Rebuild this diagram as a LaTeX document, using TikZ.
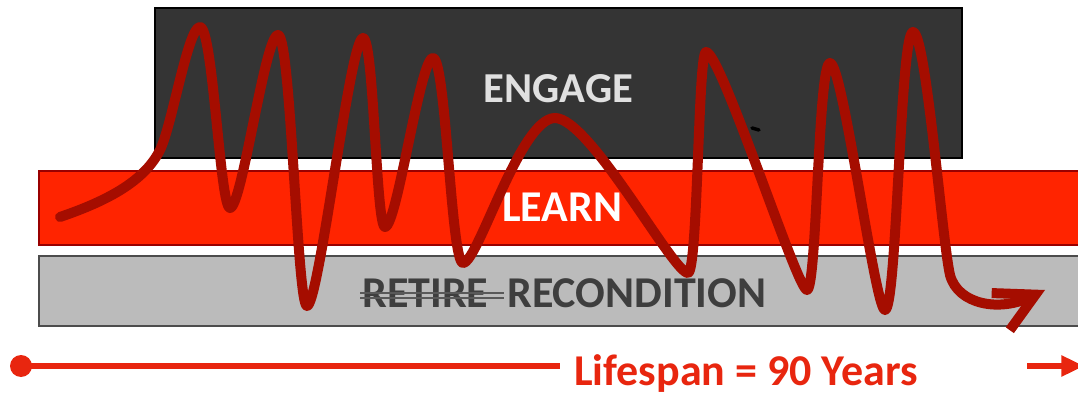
\documentclass[tikz,border=0pt]{standalone}
\usepackage{fontspec}
\setmainfont{Carlito}
\usetikzlibrary{positioning,calc,arrows.meta}

\definecolor{darkband}{HTML}{343434}
\definecolor{redband}{HTML}{FF2400}
\definecolor{greyband}{HTML}{BBBBBB}
\definecolor{wavered}{HTML}{A50D00}
\definecolor{lifered}{HTML}{E8260F}
\definecolor{labelgrey}{HTML}{3E3E3E}

\begin{document}
\begin{tikzpicture}[x=0.75pt, y=-0.75pt,
    band/.style={line width=0.8pt},
    bandlabel/.style={font=\fontsize{33}{33}\bfseries, inner sep=0pt},
    wave/.style={wavered, line width=7.5pt, line cap=round, line join=round},
    strike/.style={gray!70!black, line width=1pt},
    lifeline/.style={lifered, line width=4.5pt}
]
\useasboundingbox (0,0) rectangle (1078,395);

% Bands - drawn first, wave goes on top
% Engage: dark band at the top
\draw[band, draw=black, fill=darkband] (155,8) rectangle (962,158);
% Learn: red band across
\draw[band, draw=red!60!black, fill=redband] (39,171) rectangle (1090,245);
% Recondition: grey band across
\draw[band, draw=black!70, fill=greyband] (39,256) rectangle (1090,326);

% Band labels
\node[bandlabel, font=\fontsize{32}{32}\bfseries, text=black!12, anchor=base] (engage) at (558.5,103) {ENGAGE};
\node[bandlabel, text=white, anchor=base] (learn) at (562,222) {LEARN};
\node[bandlabel, text=labelgrey, anchor=base west] (retire) at (362,307) {RETIRE};
\node[bandlabel, text=labelgrey, anchor=base west] (recon) at (507,307) {RECONDITION};
% RETIRE is struck out twice
\draw[strike] ($(retire.base west)+(-2,-14)$) -- ($(retire.base east)+(15,-14)$);
\draw[strike] ($(retire.base west)+(-2,-9)$) -- ($(retire.base east)+(15,-9)$);

% stray mark in the engage band
\draw[black, line width=2.6pt, line cap=round] (752,128) -- (759,130);

% The wave of a life - up and down between the bands
\draw[wave, -{Straight Barb[length=29pt, width=31pt]}] (60,217)
  .. controls (110,200) and (145,180) .. (160,150)
  .. controls (172,126) and (188,27) .. (200,27)
  .. controls +(13,0) and +(-10,0) .. (230,208)
  .. controls +(12,0) and +(-13,0) .. (278,35)
  .. controls +(13,0) and +(-10,0) .. (307,306)
  .. controls +(12,0) and +(-13,0) .. (363,38)
  .. controls +(11,0) and +(-9,0) .. (385,227)
  .. controls +(12,0) and +(-13,0) .. (433,58)
  .. controls +(13,0) and +(-12,0) .. (463,263)
  .. controls +(15,0) and +(-35,0) .. (555,118)
  .. controls +(35,0) and +(-15,0) .. (688,273)
  .. controls +(10,0) and +(-8,0) .. (706,52)
  .. controls +(15,0) and +(-10,0) .. (807,290)
  .. controls +(10,0) and +(-12,0) .. (830,63)
  .. controls +(13,0) and +(-10,0) .. (885,310)
  .. controls +(12,0) and +(-13,0) .. (913,32)
  .. controls +(13,0) and (942,240) .. (950,275)
  .. controls (958,305) and (1000,312) .. (1045,290);

% Lifespan timeline
\node[circle, fill=lifered, inner sep=0pt, minimum size=16.5pt] (birth) at (21,366) {};
\coordinate (lineend) at (560,366);
\node[font=\fontsize{33}{33}\bfseries, text=lifered, inner sep=0pt, anchor=base west] (span) at (574,385) {Lifespan = 90 Years};
\coordinate (arrowstart) at (1027,366);
\coordinate (arrowend) at (1084,366);
\draw[lifeline] (birth.center) -- (lineend);
\draw[lifeline, -{Triangle[length=17pt, width=15pt]}] (arrowstart) -- (arrowend);

\end{tikzpicture}
\end{document}
